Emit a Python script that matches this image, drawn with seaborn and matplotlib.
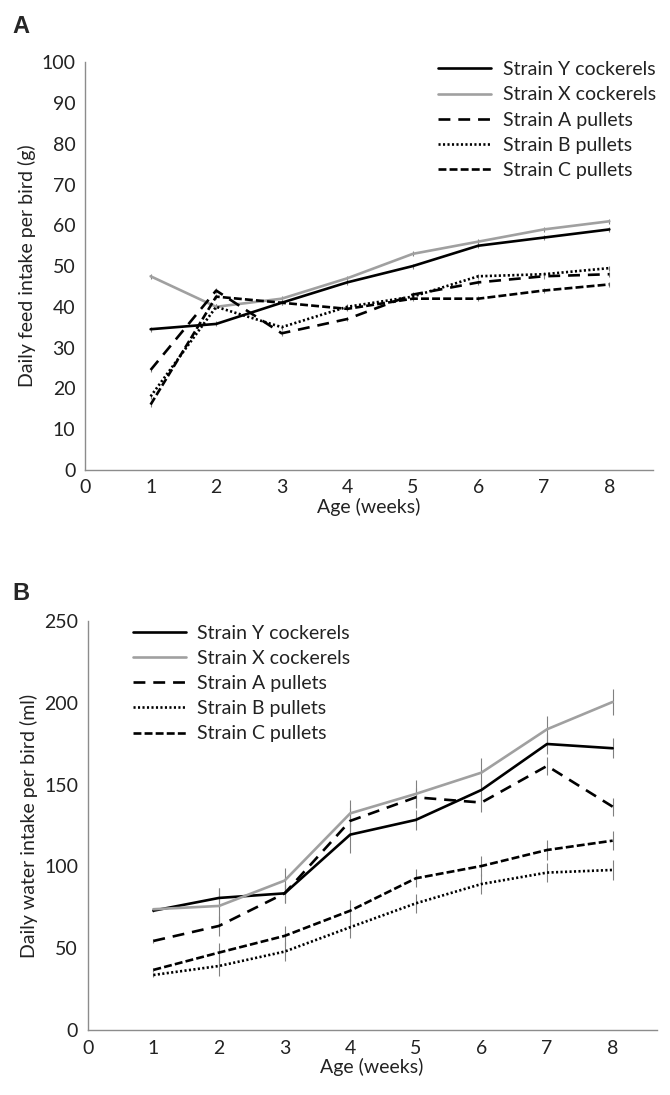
import matplotlib
matplotlib.use("Agg")
import matplotlib.pyplot as plt
import seaborn as sns
import numpy as np

sns.set_theme(style="white")
plt.rcParams['font.family'] = ['Lato', 'DejaVu Sans']

weeks = [1, 2, 3, 4, 5, 6, 7, 8]
series_names = ["Strain Y cockerels", "Strain X cockerels", "Strain A pullets",
                "Strain B pullets", "Strain C pullets"]

# Panel A: daily feed intake (g)
feed_Y = [34.5, 35.8, 41.0, 46.0, 50.0, 55.0, 57.0, 59.0]
feed_X = [47.5, 40.0, 42.0, 47.0, 53.0, 56.0, 59.0, 61.0]
feed_A = [24.5, 44.0, 33.5, 37.0, 43.0, 46.0, 47.5, 48.0]
feed_B = [18.0, 40.0, 35.0, 40.0, 42.5, 47.5, 48.0, 49.5]
feed_C = [16.0, 42.5, 41.0, 39.5, 42.0, 42.0, 44.0, 45.5]
feed_err = [0.6, 0.6, 0.6, 0.6, 0.6, 0.6, 0.6, 0.6]

# Panel B: daily water intake (ml)
water_Y = [72.9, 80.7, 83.5, 119.4, 128.4, 146.7, 174.8, 172.2]
water_X = [73.8, 75.8, 91.3, 132.4, 144.3, 157.3, 183.8, 200.5]
water_A = [54.4, 63.6, 83.5, 127.8, 142.2, 139.0, 161.4, 136.5]
water_B = [33.6, 39.1, 47.9, 62.8, 77.4, 89.2, 96.2, 97.8]
water_C = [36.7, 47.3, 57.5, 72.9, 92.7, 100.2, 110.0, 115.7]
err_Y = [1, 6, 6, 11, 6, 6, 6, 6]
err_X = [1, 11, 8, 8, 8.5, 8.8, 8, 8]
err_A = [1, 6, 6, 8, 6, 6, 5.5, 5.5]
err_B = [1, 6, 6, 6.7, 6, 6, 6, 6]
err_C = [1, 6, 6, 6.5, 5.5, 6, 6, 6]

x_ticks = [0, 1, 2, 3, 4, 5, 6, 7, 8]
feed_ticks = [0, 10, 20, 30, 40, 50, 60, 70, 80, 90, 100]
water_ticks = [0, 50, 100, 150, 200, 250]

styles = [
    dict(color="black", linestyle="-"),
    dict(color="#a0a0a0", linestyle="-"),
    dict(color="black", linestyle=(0, (4.5, 3.0))),
    dict(color="black", linestyle=(0, (0.8, 0.9))),
    dict(color="black", linestyle=(0, (3.0, 1.2))),
]

fig = plt.figure(figsize=(6.7, 10.95), dpi=100)
axA = fig.add_axes([0.127, 0.571, 0.848, 0.372])
axB = fig.add_axes([0.131, 0.0594, 0.849, 0.3735])

FS = 14

def draw(ax, data, errs, ylim, yticks, ylabel, legend_loc, bbox):
    for name, vals, err, st in zip(series_names, data, errs, styles):
        ax.errorbar(weeks, vals, yerr=err, fmt="none", ecolor="#808080",
                    elinewidth=0.8, capsize=0, zorder=1)
    for name, vals, st in zip(series_names, data, styles):
        sns.lineplot(x=weeks, y=vals, ax=ax, label=name, lw=1.9,
                     color=st["color"], linestyle=st["linestyle"], zorder=3)
    ax.set_xlim(0, 8.67)
    ax.set_ylim(*ylim)
    ax.set_xticks(x_ticks)
    ax.set_yticks(yticks)
    ax.tick_params(axis="both", length=0, labelsize=FS, colors="#222222", pad=7)
    for s in ["top", "right"]:
        ax.spines[s].set_visible(False)
    for s in ["left", "bottom"]:
        ax.spines[s].set_color("#8c8c8c")
        ax.spines[s].set_linewidth(1.0)
    ax.set_xlabel("Age (weeks)", fontsize=FS, color="#222222", labelpad=1)
    ax.set_ylabel(ylabel, fontsize=FS, color="#222222", labelpad=4)
    leg = ax.legend(loc=legend_loc, bbox_to_anchor=bbox, frameon=False,
                    fontsize=FS, handlelength=2.7, handletextpad=0.6,
                    labelspacing=0.42, borderaxespad=0)
    for t in leg.get_texts():
        t.set_color("#222222")

draw(axA, [feed_Y, feed_X, feed_A, feed_B, feed_C], [feed_err] * 5,
     (0, 100), feed_ticks, "Daily feed intake per bird (g)", "upper right", (1.018, 1.022))
draw(axB, [water_Y, water_X, water_A, water_B, water_C],
     [err_Y, err_X, err_A, err_B, err_C],
     (0, 250), water_ticks, "Daily water intake per bird (ml)", "upper left", (0.066, 1.01))

fig.text(0.018, 0.97, "A", fontsize=17, fontweight="bold", family="Liberation Sans")
fig.text(0.018, 0.452, "B", fontsize=17, fontweight="bold", family="Liberation Sans")

fig.savefig("out.png", dpi=100, facecolor="white")
